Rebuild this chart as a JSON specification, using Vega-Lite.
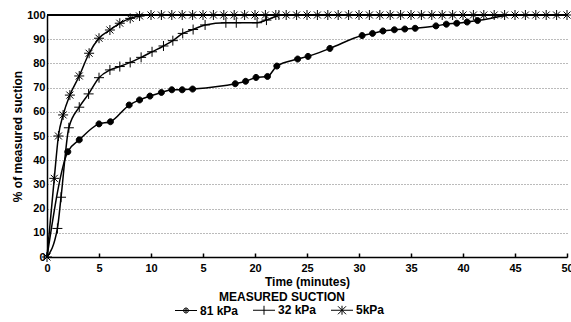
{
  "$schema": "https://vega.github.io/schema/vega-lite/v6.json",
  "width": 520,
  "height": 242,
  "autosize": "none",
  "padding": {"left": 47, "top": 15, "right": 4, "bottom": 65},
  "background": "white",
  "config": {
    "view": {"stroke": null},
    "font": "Liberation Sans",
    "axis": {"labelFont": "Liberation Sans", "labelFontWeight": "bold", "labelFontSize": 11, "labelColor": "black", "titleFont": "Liberation Sans", "titleFontWeight": "bold", "titleFontSize": 12, "titleColor": "black", "domainColor": "black", "domainWidth": 1.5, "tickColor": "black"}
  },
  "data": {
    "values": [
      {"series": "81 kPa", "t": 0, "p": 0, "obs": 0},
      {"series": "81 kPa", "t": 2.0, "p": 43.5, "obs": 1},
      {"series": "81 kPa", "t": 3.1, "p": 48.4, "obs": 1},
      {"series": "81 kPa", "t": 5.0, "p": 55.0, "obs": 1},
      {"series": "81 kPa", "t": 6.1, "p": 55.9, "obs": 1},
      {"series": "81 kPa", "t": 7.9, "p": 62.8, "obs": 1},
      {"series": "81 kPa", "t": 8.9, "p": 64.9, "obs": 1},
      {"series": "81 kPa", "t": 9.9, "p": 66.5, "obs": 1},
      {"series": "81 kPa", "t": 11.0, "p": 68.0, "obs": 1},
      {"series": "81 kPa", "t": 12.0, "p": 69.1, "obs": 1},
      {"series": "81 kPa", "t": 13.0, "p": 69.1, "obs": 1},
      {"series": "81 kPa", "t": 14.0, "p": 69.4, "obs": 1},
      {"series": "81 kPa", "t": 18.1, "p": 71.6, "obs": 1},
      {"series": "81 kPa", "t": 19.1, "p": 72.6, "obs": 1},
      {"series": "81 kPa", "t": 20.1, "p": 74.2, "obs": 1},
      {"series": "81 kPa", "t": 21.2, "p": 74.6, "obs": 1},
      {"series": "81 kPa", "t": 22.1, "p": 78.9, "obs": 1},
      {"series": "81 kPa", "t": 24.1, "p": 81.8, "obs": 1},
      {"series": "81 kPa", "t": 25.1, "p": 82.9, "obs": 1},
      {"series": "81 kPa", "t": 27.2, "p": 86.2, "obs": 1},
      {"series": "81 kPa", "t": 30.3, "p": 91.5, "obs": 1},
      {"series": "81 kPa", "t": 31.3, "p": 92.4, "obs": 1},
      {"series": "81 kPa", "t": 32.3, "p": 93.4, "obs": 1},
      {"series": "81 kPa", "t": 33.4, "p": 93.9, "obs": 1},
      {"series": "81 kPa", "t": 34.4, "p": 94.2, "obs": 1},
      {"series": "81 kPa", "t": 35.4, "p": 94.5, "obs": 1},
      {"series": "81 kPa", "t": 37.4, "p": 95.5, "obs": 1},
      {"series": "81 kPa", "t": 38.4, "p": 96.2, "obs": 1},
      {"series": "81 kPa", "t": 39.4, "p": 96.6, "obs": 1},
      {"series": "81 kPa", "t": 40.4, "p": 97.1, "obs": 1},
      {"series": "81 kPa", "t": 41.4, "p": 97.7, "obs": 1},
      {"series": "81 kPa", "t": 44.3, "p": 100, "obs": 0},
      {"series": "32 kPa", "t": 0, "p": 0, "obs": 0},
      {"series": "32 kPa", "t": 1.0, "p": 11.8, "obs": 1},
      {"series": "32 kPa", "t": 1.35, "p": 24.7, "obs": 1},
      {"series": "32 kPa", "t": 2.1, "p": 53.4, "obs": 1},
      {"series": "32 kPa", "t": 3.1, "p": 61.9, "obs": 1},
      {"series": "32 kPa", "t": 4.0, "p": 67.4, "obs": 1},
      {"series": "32 kPa", "t": 5.0, "p": 74.1, "obs": 1},
      {"series": "32 kPa", "t": 6.05, "p": 77.3, "obs": 1},
      {"series": "32 kPa", "t": 7.0, "p": 78.7, "obs": 1},
      {"series": "32 kPa", "t": 8.0, "p": 80.4, "obs": 1},
      {"series": "32 kPa", "t": 9.05, "p": 82.5, "obs": 1},
      {"series": "32 kPa", "t": 10.1, "p": 84.8, "obs": 1},
      {"series": "32 kPa", "t": 11.2, "p": 87.2, "obs": 1},
      {"series": "32 kPa", "t": 12.1, "p": 89.4, "obs": 1},
      {"series": "32 kPa", "t": 13.05, "p": 92.4, "obs": 1},
      {"series": "32 kPa", "t": 14.05, "p": 94.0, "obs": 1},
      {"series": "32 kPa", "t": 15.2, "p": 95.9, "obs": 1},
      {"series": "32 kPa", "t": 17.2, "p": 96.8, "obs": 1},
      {"series": "32 kPa", "t": 18.2, "p": 96.8, "obs": 1},
      {"series": "32 kPa", "t": 20.2, "p": 96.8, "obs": 1},
      {"series": "32 kPa", "t": 21.1, "p": 97.9, "obs": 1},
      {"series": "32 kPa", "t": 22.3, "p": 100, "obs": 1},
      {"series": "5kPa", "t": 0, "p": 0, "obs": 1},
      {"series": "5kPa", "t": 0.7, "p": 32.5, "obs": 1},
      {"series": "5kPa", "t": 1.1, "p": 50.0, "obs": 1},
      {"series": "5kPa", "t": 1.55, "p": 58.7, "obs": 1},
      {"series": "5kPa", "t": 2.2, "p": 66.9, "obs": 1},
      {"series": "5kPa", "t": 3.1, "p": 74.8, "obs": 1},
      {"series": "5kPa", "t": 4.05, "p": 84.2, "obs": 1},
      {"series": "5kPa", "t": 5.0, "p": 90.4, "obs": 1},
      {"series": "5kPa", "t": 6.05, "p": 93.8, "obs": 1},
      {"series": "5kPa", "t": 7.0, "p": 96.6, "obs": 1},
      {"series": "5kPa", "t": 8.0, "p": 98.6, "obs": 1},
      {"series": "5kPa", "t": 8.9, "p": 99.6, "obs": 1},
      {"series": "5kPa", "t": 10, "p": 100, "obs": 1},
      {"series": "5kPa", "t": 11, "p": 100, "obs": 1},
      {"series": "5kPa", "t": 12, "p": 100, "obs": 1},
      {"series": "5kPa", "t": 13, "p": 100, "obs": 1},
      {"series": "5kPa", "t": 14, "p": 100, "obs": 1},
      {"series": "5kPa", "t": 15, "p": 100, "obs": 1},
      {"series": "5kPa", "t": 16, "p": 100, "obs": 1},
      {"series": "5kPa", "t": 17, "p": 100, "obs": 1},
      {"series": "5kPa", "t": 18, "p": 100, "obs": 1},
      {"series": "5kPa", "t": 19, "p": 100, "obs": 1},
      {"series": "5kPa", "t": 20, "p": 100, "obs": 1},
      {"series": "5kPa", "t": 21, "p": 100, "obs": 1},
      {"series": "5kPa", "t": 22, "p": 100, "obs": 1},
      {"series": "5kPa", "t": 23, "p": 100, "obs": 1},
      {"series": "5kPa", "t": 24, "p": 100, "obs": 1},
      {"series": "5kPa", "t": 25, "p": 100, "obs": 1},
      {"series": "5kPa", "t": 26, "p": 100, "obs": 1},
      {"series": "5kPa", "t": 27, "p": 100, "obs": 1},
      {"series": "5kPa", "t": 28, "p": 100, "obs": 1},
      {"series": "5kPa", "t": 29, "p": 100, "obs": 1},
      {"series": "5kPa", "t": 30, "p": 100, "obs": 1},
      {"series": "5kPa", "t": 31, "p": 100, "obs": 1},
      {"series": "5kPa", "t": 32, "p": 100, "obs": 1},
      {"series": "5kPa", "t": 33, "p": 100, "obs": 1},
      {"series": "5kPa", "t": 34, "p": 100, "obs": 1},
      {"series": "5kPa", "t": 35, "p": 100, "obs": 1},
      {"series": "5kPa", "t": 36, "p": 100, "obs": 1},
      {"series": "5kPa", "t": 37, "p": 100, "obs": 1},
      {"series": "5kPa", "t": 38, "p": 100, "obs": 1},
      {"series": "5kPa", "t": 39, "p": 100, "obs": 1},
      {"series": "5kPa", "t": 40, "p": 100, "obs": 1},
      {"series": "5kPa", "t": 41, "p": 100, "obs": 1},
      {"series": "5kPa", "t": 42, "p": 100, "obs": 1},
      {"series": "5kPa", "t": 43, "p": 100, "obs": 1},
      {"series": "5kPa", "t": 44, "p": 100, "obs": 1},
      {"series": "5kPa", "t": 45, "p": 100, "obs": 1},
      {"series": "5kPa", "t": 46, "p": 100, "obs": 1},
      {"series": "5kPa", "t": 47, "p": 100, "obs": 1},
      {"series": "5kPa", "t": 48, "p": 100, "obs": 1},
      {"series": "5kPa", "t": 49, "p": 100, "obs": 1},
      {"series": "5kPa", "t": 50, "p": 100, "obs": 1}
    ]
  },
  "encoding": {
    "x": {
      "field": "t", "type": "quantitative",
      "scale": {"domain": [0, 50], "nice": false},
      "axis": {"title": "Time (minutes)", "values": [0, 5, 10, 15, 20, 25, 30, 35, 40, 45, 50], "grid": false, "tickSize": -4, "tickWidth": 1.5, "labelPadding": 9, "titlePadding": 3, "labelExpr": "datum.value == 15 ? '5' : datum.label", "labelFlush": false}
    },
    "y": {
      "field": "p", "type": "quantitative",
      "scale": {"domain": [0, 100], "nice": false},
      "axis": {"title": "% of measured suction", "values": [0, 10, 20, 30, 40, 50, 60, 70, 80, 90, 100], "grid": true, "gridColor": "#777777", "gridDash": [1, 2], "gridWidth": 1, "ticks": false, "labelPadding": 2, "titlePadding": 2, "labelFlush": false}
    }
  },
  "layer": [
    {
      "mark": {"type": "rule", "color": "black", "strokeWidth": 1.5},
      "encoding": {"x": {"datum": 0}, "x2": {"datum": 50}, "y": {"datum": 100}}
    },
    {
      "mark": {"type": "line", "interpolate": "monotone", "color": "black", "strokeWidth": 1.5},
      "encoding": {"detail": {"field": "series"}}
    },
    {
      "transform": [{"filter": "datum.obs == 1"}],
      "mark": {"type": "point", "filled": true, "color": "black", "stroke": "black", "strokeWidth": 1, "opacity": 1, "size": 100},
      "encoding": {
        "shape": {
          "field": "series", "type": "nominal",
          "scale": {"domain": ["81 kPa", "32 kPa", "5kPa"], "range": ["M-0.6,0A0.6,0.6 0 1,1 0.6,0A0.6,0.6 0 1,1 -0.6,0Z", "M-1,0L1,0M0,-1L0,1", "M-1,0L1,0M0,-1L0,1M-0.7,-0.7L0.7,0.7M-0.7,0.7L0.7,-0.7"]},
          "legend": null
        }
      }
    },
    {
      "transform": [{"filter": "datum.obs == 2"}],
      "mark": {"type": "point", "filled": false, "color": "black", "strokeWidth": 1, "opacity": 1, "size": 100},
      "encoding": {
        "shape": {
          "field": "series", "type": "nominal",
          "scale": {"domain": ["81 kPa", "32 kPa", "5kPa"], "range": ["M-2.2,0L2.2,0M-0.5,0A0.5,0.5 0 1,1 0.5,0A0.5,0.5 0 1,1 -0.5,0M-0.3,0A0.3,0.3 0 1,1 0.3,0A0.3,0.3 0 1,1 -0.3,0M-0.1,0A0.1,0.1 0 1,1 0.1,0A0.1,0.1 0 1,1 -0.1,0", "M-2.2,0L2.2,0M0,-0.9L0,0.9", "M-2.2,0L2.2,0M0,-0.9L0,0.9M-0.8,-0.8L0.8,0.8M-0.8,0.8L0.8,-0.8"]},
          "legend": {
            "orient": "none", "legendX": 133, "legendY": 277, "direction": "horizontal",
            "title": "MEASURED SUCTION", "titleAnchor": "middle", "titleFont": "Liberation Sans", "titleFontSize": 12, "titleFontWeight": "bold", "titleColor": "black", "titlePadding": 0,
            "labelFont": "Liberation Sans", "labelFontSize": 12, "labelFontWeight": "bold", "labelColor": "black", "labelOffset": 8, "columnPadding": 12,
            "symbolSize": 100, "symbolStrokeWidth": 1, "symbolStrokeColor": "black"
          }
        }
      }
    }
  ],
  "resolve": {"scale": {"shape": "independent"}, "legend": {"shape": "independent"}}
}
